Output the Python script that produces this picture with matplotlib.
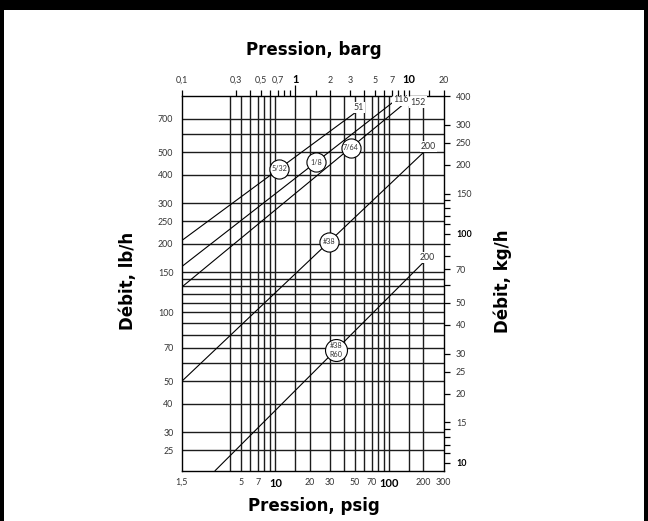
import matplotlib
matplotlib.use('Agg')
import matplotlib.pyplot as plt
import numpy as np
from matplotlib.patches import Rectangle
from matplotlib.ticker import FixedLocator, FixedFormatter, NullFormatter

plt.rcParams['font.family'] = ['Lato', 'DejaVu Sans']

# ---------------- data ----------------
psig_grid = [4, 5, 6, 7, 8, 9, 10, 15, 20, 30, 40, 50, 60, 70, 80, 90, 100, 150, 200]
lbh_grid = [25, 30, 40, 50, 60, 70, 80, 90, 100, 110, 120, 130, 140, 150,
            200, 250, 300, 400, 500, 600, 700]

psig_ticks = [1.5, 5, 7, 10, 20, 30, 50, 70, 100, 200, 300]
psig_labels = ['1,5', '5', '7', '10', '20', '30', '50', '70', '100', '200', '300']
barg_ticks = [0.1, 0.3, 0.5, 0.7, 1, 2, 3, 5, 7, 10, 20]
barg_labels = ['0,1', '0,3', '0,5', '0,7', '1', '2', '3', '5', '7', '10', '20']
barg_minor = [0.4, 0.6, 0.8, 0.9, 1.5, 4, 6, 8, 9, 15]
lbh_ticks = [25, 30, 40, 50, 70, 100, 150, 200, 250, 300, 400, 500, 700]
lbh_labels = ['25', '30', '40', '50', '70', '100', '150', '200', '250', '300', '400', '500', '700']
kgh_ticks = [10, 15, 20, 25, 30, 40, 50, 70, 100, 150, 200, 250, 300, 400]
kgh_labels = ['10', '15', '20', '25', '30', '40', '50', '70', '100', '150', '200', '250', '300', '400']
kgh_minor = [11, 12, 13, 14, 60, 80, 90, 110, 120, 130, 140]

orifices = ['5/32', '1/8', '7/64', '#38', '#38\nR60']
line_psig_start = [1.5, 1.5, 1.5, 1.5, 2.93]
line_lbh_start = [206, 158.5, 129, 50, 20.3]
line_psig_end = [51, 116, 152, 200, 200]
line_lbh_end = [750, 852, 856, 500, 165.6]
max_labels = ['51', '116', '152', '200', '200']
circle_psig = [10.8, 22.7, 45.9, 29.7, 34]

# ---------------- figure ----------------
W, H = 648, 521
fig = plt.figure(figsize=(W / 100, H / 100), dpi=100)
fig.patch.set_facecolor('white')

left_px, right_px, top_px, bot_px = 181.7, 443.5, 96, 471
ax = fig.add_axes([left_px / W, 1 - bot_px / H, (right_px - left_px) / W, (bot_px - top_px) / H])
ax.set_xscale('log')
ax.set_yscale('log')
xlim = (1.5, 300)
ylim = (20.3, 882)
ax.set_xlim(*xlim)
ax.set_ylim(*ylim)

grid_c = '#1c1c1c'
for x in psig_grid:
    ax.axvline(x, color=grid_c, lw=1.0, zorder=1)
for y in lbh_grid:
    ax.axhline(y, color=grid_c, lw=1.0, zorder=1)

for s in ax.spines.values():
    s.set_linewidth(1.0)
    s.set_color('black')

# diagonal lines
for i in range(len(orifices)):
    ax.plot([line_psig_start[i], line_psig_end[i]], [line_lbh_start[i], line_lbh_end[i]],
            color='black', lw=0.8, zorder=3, solid_capstyle='butt')

# circles with orifice labels
for i, name in enumerate(orifices):
    lx0, lx1 = np.log10(line_psig_start[i]), np.log10(line_psig_end[i])
    ly0, ly1 = np.log10(line_lbh_start[i]), np.log10(line_lbh_end[i])
    t = (np.log10(circle_psig[i]) - lx0) / (lx1 - lx0)
    cy = 10 ** (ly0 + t * (ly1 - ly0))
    size = 250 if '\n' in name else 190
    ax.scatter([circle_psig[i]], [cy], s=size, facecolor='white', edgecolor='black',
               linewidths=0.8, zorder=6)
    ax.text(circle_psig[i], cy, name, ha='center', va='center', fontsize=5.2,
            color='#333333', zorder=7, linespacing=1.25)

# max pressure labels (offsets in points from line end)
offsets = [(1.8, 3.4), (3.0, -0.4), (5.8, -2.2), (3.4, 4.3), (2.6, 3.6)]
for i, lab in enumerate(max_labels):
    ax.annotate(lab, (line_psig_end[i], line_lbh_end[i]), xytext=offsets[i],
                textcoords='offset points', ha='center', va='center',
                fontsize=6.3, color='#333333', zorder=8,
                bbox=dict(boxstyle='square,pad=0.12', fc='white', ec='none'))

tick_size = 6.4
# bottom axis (psig)
ax.xaxis.set_major_locator(FixedLocator(psig_ticks))
ax.xaxis.set_major_formatter(FixedFormatter(psig_labels))
ax.xaxis.set_minor_locator(FixedLocator([]))
ax.tick_params(axis='x', which='both', length=0, pad=5, labelsize=tick_size, labelcolor='#333333')
for lab in ax.get_xticklabels():
    if lab.get_text() in ('10', '100'):
        lab.set_fontweight('bold')
        lab.set_fontsize(8)
        lab.set_color('black')

# left axis (lb/h)
ax.yaxis.set_major_locator(FixedLocator(lbh_ticks))
ax.yaxis.set_major_formatter(FixedFormatter(lbh_labels))
ax.yaxis.set_minor_locator(FixedLocator([]))
ax.tick_params(axis='y', which='both', length=0, pad=6, labelsize=tick_size, labelcolor='#333333')

# top axis (barg)
axt = ax.twiny()
axt.set_xscale('log')
axt.set_xlim(xlim[0] / 15, xlim[1] / 15)
axt.xaxis.set_major_locator(FixedLocator(barg_ticks))
axt.xaxis.set_major_formatter(FixedFormatter(barg_labels))
axt.xaxis.set_minor_locator(FixedLocator(barg_minor))
axt.xaxis.set_minor_formatter(NullFormatter())
axt.tick_params(axis='x', which='both', direction='out', length=4, width=0.9,
                pad=4, labelsize=tick_size, labelcolor='#333333')
for lab in axt.get_xticklabels():
    if lab.get_text() in ('1', '10'):
        lab.set_fontweight('bold')
        lab.set_fontsize(8)
        lab.set_color('black')
for tk in axt.xaxis.get_major_ticks():
    if abs(tk.get_loc() - 1) < 1e-9:
        tk.tick2line.set_markersize(8)
for s in axt.spines.values():
    s.set_visible(False)

# right axis (kg/h)
axr = ax.twinx()
axr.set_yscale('log')
axr.set_ylim(ylim[0] / 2.2046, ylim[1] / 2.2046)
axr.yaxis.set_major_locator(FixedLocator(kgh_ticks))
axr.yaxis.set_major_formatter(FixedFormatter(kgh_labels))
axr.yaxis.set_minor_locator(FixedLocator(kgh_minor))
axr.yaxis.set_minor_formatter(NullFormatter())
axr.tick_params(axis='y', which='both', direction='out', length=4, width=0.9,
                pad=5, labelsize=tick_size, labelcolor='#333333')
for lab in axr.get_yticklabels():
    if lab.get_text() in ('10', '100'):
        lab.set_fontweight('bold')
        lab.set_color('black')
for s in axr.spines.values():
    s.set_visible(False)

# axis titles
title_kw = dict(fontsize=12, fontweight='bold', color='black', ha='center', va='center',
                family=['DejaVu Sans'])
fig.text(314 / W, 1 - 50 / H, 'Pression, barg', **title_kw)
fig.text(314 / W, 1 - 506 / H, 'Pression, psig', **title_kw)
fig.text(128 / W, 1 - 281 / H, 'Débit, lb/h', rotation=90, **title_kw)
fig.text(503 / W, 1 - 281 / H, 'Débit, kg/h', rotation=90, **title_kw)

# black frame of the picture
fig.patches.append(Rectangle((0, 1 - 10 / H), 1, 10 / H, transform=fig.transFigure,
                             facecolor='black', edgecolor='none', zorder=10))
fig.patches.append(Rectangle((0, 0), 4 / W, 1, transform=fig.transFigure,
                             facecolor='black', edgecolor='none', zorder=10))
fig.patches.append(Rectangle((1 - 4 / W, 0), 4 / W, 1, transform=fig.transFigure,
                             facecolor='black', edgecolor='none', zorder=10))

fig.savefig('out.png', dpi=100)
